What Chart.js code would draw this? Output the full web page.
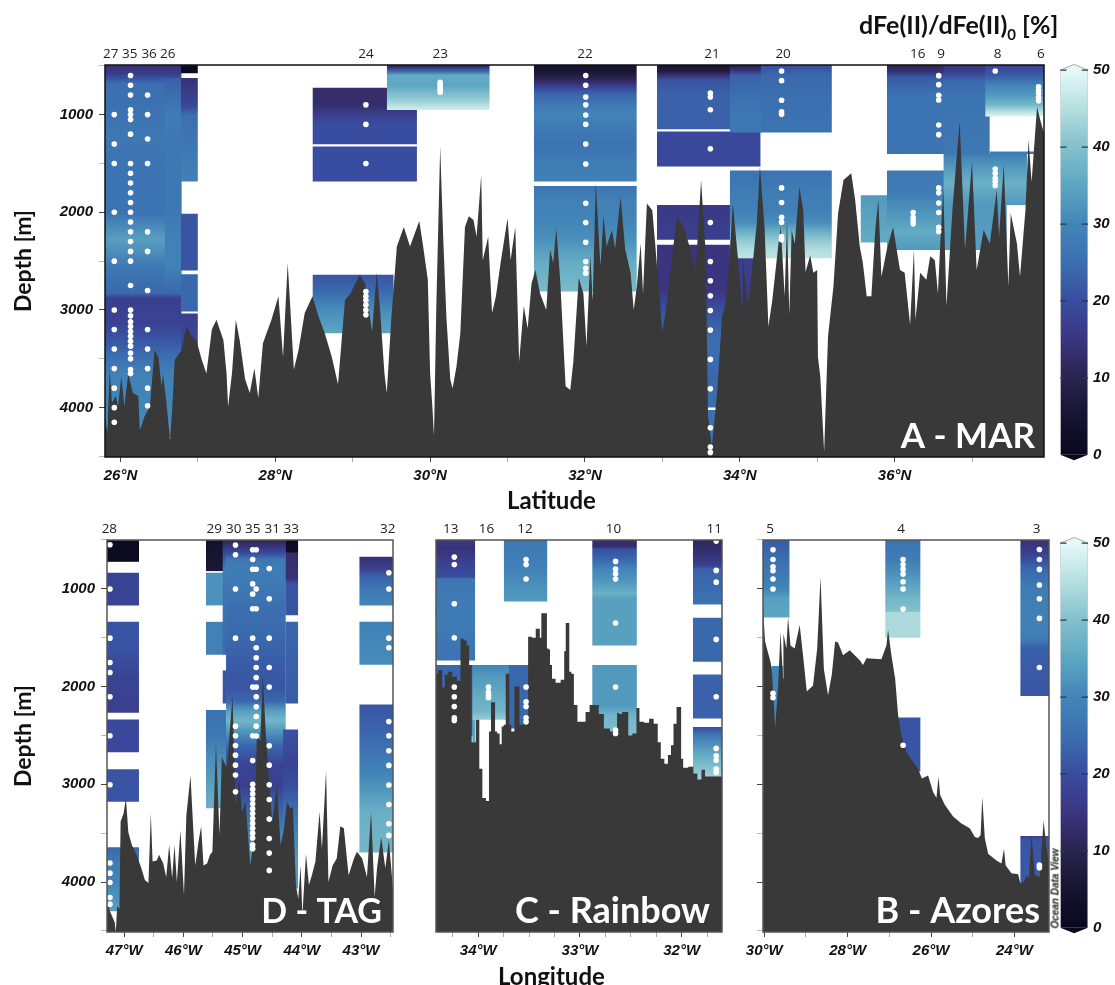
<!DOCTYPE html>
<html>
<head>
<meta charset="utf-8">
<title>dFe(II)/dFe(II)0 sections</title>
<script src="https://cdn.jsdelivr.net/npm/chart.js@4"></script>
<style>
body { margin: 0; background: #fff; width: 1115px; height: 985px; position: relative; overflow: hidden; }
canvas { position: absolute; }
.lbl { position: absolute; font-family: Lato, sans-serif; font-weight: bold; color: #111; white-space: nowrap; line-height: 1; }
.lbl sub { font-size: 60%; }
</style>
</head>
<body>
<canvas id="marChart" width="1055" height="470" style="left:0;top:40px"></canvas>
<canvas id="tagChart" width="402" height="450" style="left:0;top:515px"></canvas>
<canvas id="rainbowChart" width="306" height="450" style="left:424px;top:515px"></canvas>
<canvas id="azoresChart" width="320" height="450" style="left:735px;top:515px"></canvas>
<canvas id="barTop" width="60" height="425" style="left:1055px;top:50px"></canvas>
<canvas id="barBottom" width="60" height="425" style="left:1055px;top:523px"></canvas>
<div class="lbl" style="left:859px;top:12px;font-size:25px">dFe(II)/dFe(II)<sub>0</sub> [%]</div>
<div class="lbl" style="left:507px;top:488px;font-size:24px">Latitude</div>
<div class="lbl" style="left:498px;top:964px;font-size:24px">Longitude</div>
<div class="lbl" style="left:1010px;top:883px;font:italic bold 10px 'Liberation Sans';transform:rotate(-90deg);transform-origin:center;width:90px;text-align:center;color:#222">Ocean Data View</div>
<script>
// ---- bathymetry
const marLat = [25.80,25.83,25.86,25.89,25.94,25.97,26.01,26.05,26.10,26.16,26.23,26.25,26.31,26.38,26.44,26.49,26.53,26.55,26.59,26.64,26.67,26.70,26.79,26.85,26.92,26.98,27.05,27.11,27.18,27.24,27.33,27.37,27.39,27.44,27.49,27.54,27.61,27.67,27.73,27.78,27.84,27.95,28.04,28.10,28.16,28.24,28.30,28.38,28.48,28.56,28.64,28.73,28.81,28.90,28.97,29.09,29.16,29.25,29.31,29.35,29.41,29.44,29.50,29.57,29.66,29.74,29.86,
  29.91,29.97,30.00,30.03,30.05,30.08,30.13,30.17,30.21,30.26,30.29,30.34,30.39,30.45,30.50,30.56,30.60,30.66,30.68,30.75,30.80,30.85,30.91,31.00,31.04,31.10,31.15,31.21,31.26,31.31,31.36,31.42,31.50,31.55,31.59,31.63,31.68,31.75,31.81,31.85,31.92,31.98,32.02,32.07,32.10,32.14,32.20,32.24,32.28,32.35,32.39,32.46,32.52,32.59,32.63,32.67,32.72,32.75,32.80,32.87,32.91,33.00,33.06,33.13,33.19,33.28,33.34,33.43,33.50,33.56,33.59,33.64,33.71,33.77,33.81,33.86,33.91,33.97,34.03,
  34.04,34.10,34.15,34.22,34.26,34.32,34.37,34.42,34.50,34.53,34.58,34.61,34.64,34.67,34.71,34.77,34.82,34.85,34.91,34.95,35.00,35.01,35.04,35.09,35.14,35.21,35.27,35.34,35.44,35.49,35.55,35.59,35.64,35.70,35.75,35.79,35.83,35.90,35.98,36.07,36.13,36.20,36.25,36.27,36.33,36.41,36.46,36.52,36.56,36.59,36.63,36.67,36.75,36.84,36.91,37.00,37.06,37.15,37.23,37.32,37.35,37.41,37.47,37.50,37.58,37.62,37.69,37.73,37.77,37.84,37.88,37.93];
const marSea = [4090,4260,3610,3950,3880,3990,3680,3990,3650,3850,3880,4230,4090,3990,3410,3480,3780,3660,3920,4330,3990,3510,3410,3170,3270,3310,3510,3650,3200,3100,3310,3650,3990,3650,3100,3310,3710,3850,3600,3900,3340,3100,2860,3480,2520,3610,3410,3030,2860,3070,3240,3480,3760,2900,2830,2640,2730,3220,2620,2960,3650,3850,3070,2350,2150,2350,2090,
  2350,2690,3650,4000,4290,2960,1330,2280,3070,3710,3800,3580,3240,2150,2040,2080,2250,1620,2490,2250,3030,2860,2520,2060,2490,2150,3530,2960,3190,2730,2590,2830,3000,2380,2520,2160,2690,3780,3820,3530,2670,2830,3370,2440,2900,1700,2550,2040,2350,2180,2370,1840,2380,2620,3000,2760,2320,2830,1910,1980,2350,3220,2930,2420,2040,2160,2320,2610,1670,2420,4090,4400,3820,3070,2960,2550,1910,2420,2960,
  2470,2950,2660,2110,1530,2150,3170,2900,2320,2150,2860,2080,3050,2180,2320,1740,1980,2610,2440,2620,2590,3480,3680,4450,3270,2760,2010,1670,1600,1870,2350,2520,2860,2860,2180,1870,2660,2380,2150,2590,2620,3150,2380,3100,2620,2690,2450,2490,2830,2320,1770,2960,1940,1070,2380,1480,2590,2180,2320,1770,2250,1510,2760,2010,2320,2660,1980,1260,1690,920,1050,1190];

const tagLon = [-47.29,-47.24,-47.16,-47.14,-47.12,-47.08,-47.06,-47.01,-46.97,-46.93,-46.87,-46.79,-46.71,-46.65,-46.59,-46.55,-46.52,-46.45,-46.41,-46.34,-46.29,-46.24,-46.19,-46.15,-46.11,-46.05,-45.99,-45.95,-45.88,-45.83,-45.80,-45.74,-45.70,-45.66,-45.60,-45.55,-45.51,-45.45,-45.39,-45.35,-45.26,-45.21,-45.17,-45.12,-45.06,-45.01,-44.95,-44.87,-44.80,-44.76,-44.70,-44.66,-44.61,-44.56,-44.50,-44.42,-44.36,-44.31,-44.25,-44.19,-44.15,-44.10,-44.06,-44.02,-43.99,-43.93,-43.88,-43.83,-43.77,-43.70,-43.66,-43.59,-43.55,-43.48,-43.41,-43.35,-43.29,-43.21,-43.12,-43.07,-42.98,-42.90,-42.83,-42.77,-42.73,-42.66,-42.59,-42.53,-42.46];
const tagSea = [4200,4300,4410,4510,4250,4270,3380,3300,3140,3490,3620,3720,3860,3980,4010,3300,3790,3780,3720,3810,3950,3620,3960,3620,4000,3470,4130,3320,2910,3490,3830,3570,3430,3830,3810,3720,3690,2580,3520,2720,2840,2410,2100,3210,2960,3280,3180,3830,3520,2530,2550,1880,2460,2910,3380,3010,3620,3490,3180,3250,3230,4030,4170,3830,4340,3710,4030,3930,3790,3280,3660,2860,4000,3830,3760,3430,3450,3930,3760,3690,3760,3950,3280,4150,3860,3540,3860,3570,4070];

const rainbowLon = [-34.416,-34.37,-34.34,-34.32,-34.28,-34.23,-34.19,-34.16,-34.13,-34.10,-34.08,-34.07,-34.06,-34.03,-34.02,-34.00,-33.98,-33.97,-33.95,-33.90,-33.89,-33.86,-33.84,-33.83,-33.80,-33.78,-33.76,-33.74,-33.72,-33.70,-33.69,-33.66,-33.63,-33.60,-33.59,-33.52,-33.50,-33.44,-33.43,-33.40,-33.39,-33.37,-33.33,-33.32,-33.30,-33.29,-33.26,-33.22,-33.16,-33.15,-33.13,-33.11,-33.10,-33.07,-33.05,-33.00,-32.97,-32.92,-32.89,-32.84,-32.79,-32.74,-32.67,-32.64,-32.63,-32.60,-32.57,-32.54,-32.51,-32.46,-32.43,-32.40,-32.34,-32.30,-32.25,-32.22,-32.19,-32.15,-32.12,-32.09,-32.07,-32.03,-32.01,-32.00,-31.97,-31.90,-31.87,-31.82,-31.79,-31.75,-31.69,-31.60];
const rainbowSea = [1870,1830,2010,1880,1850,1900,1940,1510,1530,1580,1780,1780,2570,2570,2340,2340,2840,2840,3140,3170,2460,2160,2160,2460,2480,2590,2410,2390,1870,1870,2390,2460,2000,2000,2390,2380,1490,1500,1410,1410,1500,1250,1250,1610,1620,1780,1920,1960,1930,1640,1350,1350,1850,1870,2190,2360,2360,2260,2190,2190,2280,2430,2460,2460,2270,2280,2260,2260,2500,2480,2220,2360,2370,2330,2380,2570,2740,2790,2700,2600,2380,2210,2210,2740,2830,2820,2890,2950,2850,2920,2920,2920];

const azoresLon = [-30.03,-29.98,-29.85,-29.82,-29.77,-29.74,-29.67,-29.61,-29.55,-29.54,-29.47,-29.43,-29.37,-29.27,-29.15,-29.07,-28.98,-28.83,-28.73,-28.65,-28.57,-28.47,-28.38,-28.30,-28.23,-28.11,-27.95,-27.83,-27.71,-27.63,-27.55,-27.19,-27.07,-27.03,-26.95,-26.86,-26.79,-26.71,-26.59,-26.47,-26.31,-26.22,-26.07,-25.95,-25.87,-25.82,-25.78,-25.67,-25.47,-25.27,-25.07,-24.95,-24.87,-24.81,-24.77,-24.71,-24.63,-24.43,-24.31,-24.25,-24.21,-24.07,-23.91,-23.86,-23.77,-23.71,-23.65,-23.59,-23.51,-23.39,-23.30,-23.23,-23.17];
const azoresSea = [1200,1540,1750,1820,2160,2430,2020,1440,1920,1460,1610,1290,1580,1610,1370,1680,2050,1990,1610,880,1820,2090,1880,1540,1550,1680,1630,1680,1730,1780,1710,1720,1580,1420,1680,1920,2290,2500,2670,2750,2840,2940,2910,3080,3140,2920,3110,3210,3330,3400,3450,3540,3550,3520,3130,3550,3710,3780,3810,3660,3830,3910,3920,4010,4000,3930,3960,3520,3930,3950,3370,3660,3790];

// ---- dFe(II)/dFe(II)0 columns: [from, to, depths, percent]
const marColumns = [
  [25.80,26.79,[492,577,630,680,1000,1260,1500,2010,2280,2555,2830,2880,3135,3300,3480,3650,4000,4300],[14,16,21,25,26,27,26,26,34,27,24,17,18,21,25,29,30,32]],
  [26.57,26.79,[630,1000,1260,2010,2280,2555,2830],[23,28,27,27,29,29,24]],
  [26.78,27.00,[492,577],[1,1]],
  [26.78,27.00,[625,918,1003,1685],[14,19,25,29]],
  [26.78,27.00,[2016,2596],[21,21]],
  [26.78,27.00,[2633,3015],[24,24]],
  [26.78,27.00,[3035,3500],[17,20]],
  [28.48,29.83,[724,900,1000,1100,1303],[13,13,17,20,20]],
  [28.48,29.83,[1327,1685],[20,20]],
  [28.48,29.53,[2640,2800,3000,3237],[21,24,31,35]],
  [29.44,30.77,[492,520,560,600,700,760,850,952],[10,15,25,36,35,38,42,48]],
  [31.34,32.67,[492,560,620,680,740,800,900,1000,1100,1300,1500,1685],[4,6,9,14,20,24,27,30,28,26,28,29]],
  [31.34,32.67,[1730,1900,2100,2300,2500,2810],[26,29,30,32,36,39]],
  [32.93,33.89,[492,560,600,650,800,1150],[5,8,14,21,23,23]],
  [32.93,34.27,[1174,1532],[19,19]],
  [32.93,33.89,[1924,2282],[16,17]],
  [32.93,33.89,[2333,2800,2900,3100,3300,3700,3997],[15,15,18,22,25,24,25]],
  [32.93,33.89,[4025,4460],[25,27]],
  [33.87,34.29,[492,560,600,800,1000,1184],[8,16,23,25,27,27]],
  [34.27,35.19,[492,600,800,1184],[20,24,25,26]],
  [33.87,35.19,[1573,1800,2000,2100,2200,2300,2400,2470],[26,28,29,31,37,42,45,46]],
  [33.87,34.27,[2470,3100],[17,17]],
  [35.90,36.65,[492,560,620,800,1402],[10,14,22,26,26]],
  [35.56,35.92,[1825,2310],[33,36]],
  [35.90,36.65,[1573,1800,2050,2200,2385],[27,28,33,36,33]],
  [36.63,37.23,[492,560,650,800,1402],[14,17,24,26,27]],
  [37.17,37.93,[492,600,700,800,900,980,1020],[18,22,30,33,38,46,49]],
  [37.23,37.84,[1378,1402],[28,28]],
  [36.63,37.71,[1402,1500,1700,1924],[28,32,37,33]],
  [36.63,37.45,[1924,2385],[33,34]]
];
const tagColumns = [
  [-47.29,-46.75,[502,724],[1,1]],
  [-47.29,-46.75,[836,1170],[18,18]],
  [-47.29,-46.75,[1338,1600,1900,2269],[21,21,18,17]],
  [-47.29,-46.75,[2337,2671],[19,19]],
  [-47.29,-46.75,[2845,3179],[21,21]],
  [-47.29,-46.75,[3643,3800,4000,4300],[24,28,30,34]],
  [-45.62,-45.33,[502,819],[4,6]],
  [-45.62,-45.33,[836,1170],[32,32]],
  [-45.62,-45.33,[1338,1675],[29,29]],
  [-45.62,-45.27,[2241,2500,2800,3244],[26,27,32,37]],
  [-45.34,-45.27,[502,640,800,1675],[10,20,28,24]],
  [-45.34,-45.27,[1835,2173],[21,21]],
  [-45.28,-44.27,[502,560,640,700,800,1000,1200,1500,1800,2000,2150,2250,2350,2450,2600,2800,3000,3200,3500,3900],[10,14,20,27,28,27,25,24,22,21,24,34,38,33,24,18,17,22,30,34]],
  [-44.28,-44.06,[502,620,640,900,950,1270],[1,2,13,14,21,21]],
  [-44.28,-44.06,[1338,2173],[24,22]],
  [-44.32,-44.06,[2439,2800,3000,3300,3800,4065],[21,18,20,26,33,33]],
  [-43.03,-42.46,[673,800,870,1000,1170],[14,17,23,27,30]],
  [-43.03,-42.46,[1338,1778],[29,31]],
  [-43.03,-42.46,[2183,2500,2900,3300,3697],[21,24,30,37,38]]
];
const rainbowColumns = [
  [-34.416,-34.03,[502,580,750,880,900,1300,1733],[16,14,18,20,27,28,26]],
  [-34.416,-34.05,[1780,2500],[24,24]],
  [-34.06,-33.69,[1780,1900,2100,2250,2340],[30,33,36,38,42]],
  [-34.06,-34.03,[2340,2570],[35,35]],
  [-33.70,-33.50,[1780,2430],[24,24]],
  [-33.75,-33.32,[502,800,1000,1130],[27,29,32,33]],
  [-32.88,-32.44,[502,570,590,700,800,900,1000,1050,1100,1580],[13,13,20,24,30,32,35,37,34,34]],
  [-32.88,-32.44,[1780,2200,2300,2510],[33,33,38,40]],
  [-31.89,-31.60,[502,600,760,800,1160],[11,13,17,23,26]],
  [-31.89,-31.60,[1297,1747],[24,24]],
  [-31.89,-31.60,[1876,2326],[23,23]],
  [-31.89,-31.60,[2415,2500,2700,2900,3000],[20,27,36,42,44]]
];
const azoresColumns = [
  [-30.03,-29.39,[502,700,850,1000,1100,1293],[22,25,27,30,34,35]],
  [-29.83,-29.55,[1790,2430],[30,30]],
  [-27.10,-26.25,[502,700,900,1100,1230,1240,1501],[26,28,33,38,40,44,44]],
  [-26.79,-26.25,[2316,2870],[21,21]],
  [-23.86,-23.17,[502,600,700,800,1000,1400,1530,1600,2098],[14,16,20,24,28,29,27,23,21]],
  [-23.86,-23.17,[3530,3570,4010],[17,21,22]]
];

// ---- sample depths per station: [position, depths]
const marSamples = [
  [25.92,[1000,1300,1500,2000,2500,3000,3200,3400,3600,3800,4000,4150]],
  [26.13,[600,700,800,950,1000,1050,1200,1500,1600,1700,1800,1900,2000,2100,2200,2300,2400,2500,2750,3000,3060,3120,3170,3220,3270,3320,3370,3440,3500,3610,3650]],
  [26.35,[800,1000,1250,1500,2200,2400,2800,3200,3400,3600,3800,3980]],
  [29.17,[900,1100,1500,2810,2860,2900,2950,3000,3050]],
  [30.13,[670,690,710,730,750,770]],
  [32.01,[600,700,820,900,1005,1100,1300,1505,1907,2105,2306,2504,2572,2623]],
  [33.62,[780,820,950,1350,2105,2504,2700,2855,3005,3206,3506,3806,4205,4403,4458]],
  [34.54,[553,652,853,970,997,1750,1900,2050,2101,2248,2282]],
  [36.24,[2003,2050,2084,2118]],
  [36.57,[601,693,802,850,1106,1205,1750,1801,1904,2003,2153,2197]],
  [37.30,[553,1556,1600,1651,1685,1726]],
  [37.86,[714,748,782,823,857]]
];
const tagSamples = [
  [-47.24,[550,1003,1505,1754,1856,2105,2504,3005,3806,3909,4004,4158,4226]],
  [-45.12,[553,652,1003,1505,2405,2504,2603,2702,2804,2906,3077]],
  [-44.83,[600,700,800,950,1055,1205,1505,2006,2504,2756,3000,3050,3100,3150,3200,3250,3300,3350,3400,3450,3500,3550,3620,3660]],
  [-44.77,[600,800,1003,1205,1604,1706,1805,1907,2006,2105,2207,2306,2405,2507]],
  [-44.55,[792,1102,1505,1805,2006,2606,2804,3005,3155,3356,3554,3704,3881]],
  [-42.53,[836,1003,1505,1604,2357,2504,2657,2807,3008,3206,3404,3523]]
];
const rainbowSamples = [
  [-34.236,[676,751,1153,1501,2006,2105,2204,2320,2347]],
  [-33.90,[2006,2054,2088,2115]],
  [-33.53,[700,751,901,2006,2156,2204,2320,2361]],
  [-32.65,[720,799,847,901,1351,2006,2446,2480]],
  [-31.66,[512,812,932,1518,2105,2633,2708,2753,2845,2879]]
];
const azoresSamples = [
  [-29.79,[601,700,775,816,901,1003,2070,2115]],
  [-26.67,[700,751,799,850,928,1003,1208,2600]],
  [-23.40,[598,700,802,962,1102,1303,1805,3827,3854]]
];

// ---- station labels along the top
const marStations = ['27','35','36','26','24','23','22','21','20','16','9','8','6'];
const marStationLat = [25.875,26.12,26.37,26.61,29.17,30.13,32.0,33.64,34.56,36.3,36.6,37.33,37.89];
const tagStations = ['28','29','30','35','31','33','32'];
const tagStationLon = [-47.25,-45.48,-45.15,-44.83,-44.5,-44.18,-42.55];
const rainbowStations = ['13','16','12','10','11'];
const rainbowStationLon = [-34.27,-33.92,-33.54,-32.67,-31.68];
const azoresStations = ['5','4','3'];
const azoresStationLon = [-29.86,-26.72,-23.47];

// ---- axis ticks
const depthTicks = [500,1000,1500,2000,2500,3000,3500,4000,4500];
const marTicks = [26,27,28,29,30,31,32,33,34,35,36,37];
const tagTicks = [-47,-46.5,-46,-45.5,-45,-44.5,-44,-43.5,-43,-42.5];
const rainbowTicks = [-34.25,-34,-33.75,-33.5,-33.25,-33,-32.75,-32.5,-32.25,-32,-31.75];
const azoresTicks = [-30,-29,-28,-27,-26,-25,-24];
const barTicks = [0,10,20,30,40,50];

// colour ramp of the colour bar
const rampPct = [0,5,10,15,20,25,30,35,40,45,50];
const rampRgb = [[8,8,30],[22,20,47],[42,36,80],[59,53,128],[56,77,160],[59,111,176],[66,133,184],[93,166,194],[130,192,204],[181,223,224],[229,249,249]];

function pctColor(v) {
  let i = 0;
  while (i < rampPct.length - 2 && v > rampPct[i + 1]) i++;
  const t = (v - rampPct[i]) / (rampPct[i + 1] - rampPct[i]);
  const c = rampRgb[i].map((a, k) => Math.round(a + (rampRgb[i + 1][k] - a) * t));
  return `rgb(${c[0]},${c[1]},${c[2]})`;
}

const tickFont = { family: 'Liberation Sans', size: 15, weight: 'bold', style: 'italic' };

// vertical gradient through the read values, placed with the y scale
function verticalFill(depths, pct) {
  return ctx => {
    const chart = ctx.chart;
    if (!chart.chartArea) return 'transparent';
    const y = chart.scales.y;
    const y0 = y.getPixelForValue(depths[0]);
    const y1 = y.getPixelForValue(depths[depths.length - 1]);
    const g = chart.ctx.createLinearGradient(0, y0, 0, y1);
    depths.forEach((d, i) => g.addColorStop((y.getPixelForValue(d) - y0) / (y1 - y0), pctColor(pct[i])));
    return g;
  };
}

// frame and panel name
const framePlugin = {
  id: 'frame',
  afterDraw(chart, args, opts) {
    const a = chart.chartArea, c = chart.ctx;
    c.save();
    c.strokeStyle = opts.color;
    c.lineWidth = 1.5;
    c.strokeRect(a.left, a.top, a.right - a.left, a.bottom - a.top);
    c.font = `bold ${opts.size}px Lato`;
    c.fillStyle = '#fff';
    c.textAlign = 'right';
    c.fillText(opts.name, a.right - opts.inset, a.bottom - 9);
    c.restore();
  }
};

function panel(id, p) {
  const datasets = [];
  datasets.push({
    data: p.samples.flatMap(s => s[1].map(d => ({ x: s[0], y: d }))),
    showLine: false, pointRadius: 2.8, pointBackgroundColor: '#fff', pointBorderWidth: 0, order: 0
  });
  datasets.push({
    data: p.seaX.map((x, i) => ({ x, y: p.seaY[i] })),
    stepped: p.stepped, borderWidth: 0, pointRadius: 0, backgroundColor: '#393939', fill: { value: p.yMax }, order: 1
  });
  p.columns.forEach((c, i) => datasets.push({
    data: [{ x: c[0], y: c[2][0] }, { x: c[1], y: c[2][0] }],
    borderWidth: 0, pointRadius: 0, backgroundColor: verticalFill(c[2], c[3]),
    fill: { value: c[2][c[2].length - 1] }, order: 100 - i
  }));

  new Chart(document.getElementById(id), {
    type: 'line',
    data: { datasets },
    plugins: [framePlugin],
    options: {
      responsive: false,
      animation: false,
      layout: { padding: { right: p.padRight } },
      plugins: {
        legend: { display: false },
        tooltip: { enabled: false },
        frame: { name: p.name, size: p.nameSize, inset: p.nameInset, color: p.frame }
      },
      scales: {
        x: {
          type: 'linear', min: p.xMin, max: p.xMax,
          afterBuildTicks: s => { s.ticks = p.ticks.map(value => ({ value })); },
          afterFit: s => { s.height = p.axisBottom; },
          ticks: { autoSkip: false, maxRotation: 0, font: tickFont, color: '#111', padding: 5, callback: p.xLabel },
          grid: { drawOnChartArea: false, tickLength: 5, tickColor: ctx => p.xMajor(ctx.tick.value) ? '#444' : '#aaa' },
          border: { display: false }
        },
        xTop: {
          type: 'linear', position: 'top', min: p.xMin, max: p.xMax,
          afterBuildTicks: s => { s.ticks = p.stationX.map(value => ({ value })); },
          afterFit: s => { s.height = 25; },
          ticks: {
            autoSkip: false, maxRotation: 0, padding: 3, color: '#222',
            font: { family: 'Open Sans', size: 13.5 },
            callback: (v, i) => p.stations[i]
          },
          grid: { display: false, drawTicks: false },
          border: { display: false }
        },
        y: {
          type: 'linear', reverse: true, min: p.yMin, max: p.yMax,
          afterBuildTicks: s => { s.ticks = depthTicks.map(value => ({ value })); },
          afterFit: s => { s.width = p.axisLeft; },
          title: {
            display: p.showDepth, text: 'Depth [m]', color: '#111',
            font: { family: 'Lato', size: 23, weight: 'bold' }, padding: { top: 10, bottom: 0 }
          },
          ticks: {
            autoSkip: false, font: tickFont, color: '#111', padding: 6,
            callback: v => (p.showDepth && v % 1000 === 0) ? String(v) : ''
          },
          grid: {
            drawOnChartArea: false, tickLength: 6,
            tickColor: ctx => !p.yTicks ? 'transparent' : (ctx.tick.value % 1000 === 0 ? '#444' : '#bbb')
          },
          border: { display: false }
        }
      }
    }
  });
}

panel('marChart', {
  name: 'A - MAR', nameSize: 35, nameInset: 9, frame: '#111', stepped: false, yTicks: true,
  seaX: marLat, seaY: marSea, columns: marColumns, samples: marSamples,
  stations: marStations, stationX: marStationLat, ticks: marTicks,
  xMin: 25.8, xMax: 37.93, yMin: 492, yMax: 4505,
  axisLeft: 105, axisBottom: 53, padRight: 11, showDepth: true,
  xLabel: v => v % 2 === 0 ? v + '°N' : '', xMajor: v => v % 2 === 0
});
panel('tagChart', {
  name: 'D - TAG', nameSize: 34, nameInset: 11, frame: '#555', stepped: false, yTicks: true,
  seaX: tagLon, seaY: tagSea, columns: tagColumns, samples: tagSamples,
  stations: tagStations, stationX: tagStationLon, ticks: tagTicks,
  xMin: -47.29, xMax: -42.46, yMin: 501, yMax: 4511,
  axisLeft: 107, axisBottom: 33, padRight: 9, showDepth: true,
  xLabel: v => Number.isInteger(v) ? -v + '°W' : '', xMajor: v => Number.isInteger(v)
});
panel('rainbowChart', {
  name: 'C - Rainbow', nameSize: 36, nameInset: 12, frame: '#555', stepped: 'middle', yTicks: false,
  seaX: rainbowLon, seaY: rainbowSea, columns: rainbowColumns, samples: rainbowSamples,
  stations: rainbowStations, stationX: rainbowStationLon, ticks: rainbowTicks,
  xMin: -34.416, xMax: -31.603, yMin: 501, yMax: 4511,
  axisLeft: 12, axisBottom: 33, padRight: 8, showDepth: false,
  xLabel: v => Number.isInteger(v) ? -v + '°W' : '', xMajor: v => Number.isInteger(v)
});
panel('azoresChart', {
  name: 'B - Azores', nameSize: 36, nameInset: 9, frame: '#555', stepped: false, yTicks: true,
  seaX: azoresLon, seaY: azoresSea, columns: azoresColumns, samples: azoresSamples,
  stations: azoresStations, stationX: azoresStationLon, ticks: azoresTicks,
  xMin: -30.03, xMax: -23.17, yMin: 501, yMax: 4511,
  axisLeft: 28, axisBottom: 33, padRight: 6, showDepth: false,
  xLabel: v => v % 2 === 0 ? -v + '°W' : '', xMajor: v => v % 2 === 0
});

function colourBar(id) {
  new Chart(document.getElementById(id), {
    type: 'line',
    data: {
      datasets: [
        { data: [0.11, 0.89].flatMap(x => barTicks.slice(1).map(y => ({ x, y }))), showLine: false, pointStyle: 'line', pointRadius: 3.2, pointBorderColor: '#2b3a4a', pointBorderWidth: 1.2, order: 0 },
        { data: [{ x: 0, y: 0 }, { x: 0, y: 50 }], borderWidth: 1.2, borderColor: '#ccc', pointRadius: 0, order: 1 },
        { data: [{ x: 1, y: 0 }, { x: 1, y: 50 }], borderWidth: 1.2, borderColor: '#ccc', pointRadius: 0, order: 1 },
        { data: [{ x: 0, y: 50 }, { x: 1, y: 50 }], borderWidth: 0, pointRadius: 0, fill: { value: 0 }, backgroundColor: verticalFill(rampPct, rampPct), order: 2 },
        { data: [{ x: 0, y: 50 }, { x: 0.5, y: 50.75 }, { x: 1, y: 50 }], borderWidth: 1, borderColor: '#aaa', pointRadius: 0, fill: { value: 50 }, backgroundColor: pctColor(50), order: 3 },
        { data: [{ x: 0, y: 0 }, { x: 0.5, y: -0.7 }, { x: 1, y: 0 }], borderWidth: 0, pointRadius: 0, fill: { value: 0 }, backgroundColor: pctColor(0), order: 3 }
      ]
    },
    options: {
      responsive: false,
      animation: false,
      layout: { padding: { left: 5, top: 10, bottom: 11 } },
      plugins: { legend: { display: false }, tooltip: { enabled: false } },
      scales: {
        x: { type: 'linear', display: false, min: 0, max: 1 },
        y: {
          type: 'linear', position: 'right', min: -0.8, max: 50.8,
          afterBuildTicks: s => { s.ticks = barTicks.map(value => ({ value })); },
          afterFit: s => { s.width = 27; },
          ticks: { font: tickFont, color: '#111', padding: 5 },
          grid: { display: false, drawTicks: false },
          border: { display: false }
        }
      }
    }
  });
}
colourBar('barTop');
colourBar('barBottom');
</script>
</body>
</html>
